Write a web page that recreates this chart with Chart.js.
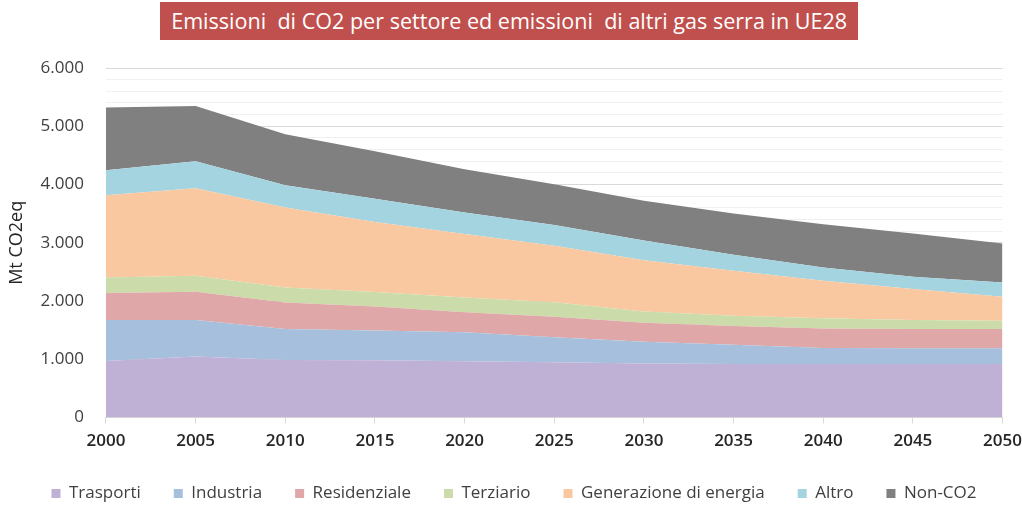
<!DOCTYPE html>
<html>
<head>
<meta charset="utf-8">
<script src="https://cdn.jsdelivr.net/npm/chart.js@4/dist/chart.umd.min.js"></script>
<style>
  html, body { margin: 0; padding: 0; background: #ffffff; }
  #wrap { position: relative; width: 1022px; height: 506px; }
  #title {
    position: absolute; left: 160px; top: 2px; width: 698px; height: 38px;
    background: #c0504d; color: #ffffff; text-align: center;
    font-family: "Open Sans", sans-serif; font-size: 21px;
    line-height: 38px; white-space: pre; z-index: 2; overflow: hidden;
  }
  #title span { display: inline-block; transform-origin: center center; }
  canvas { position: absolute; left: 0; top: 0; }
</style>
</head>
<body>
<div id="wrap">
  <div id="title"><span id="tt">Emissioni  di CO2 per settore ed emissioni  di altri gas serra in UE28</span></div>
  <canvas id="c" width="1022" height="506"></canvas>
</div>
<script>
const years = ["2000","2005","2010","2015","2020","2025","2030","2035","2040","2045","2050"];
const trasporti    = [970, 1050, 990, 985, 965, 950, 930, 920, 920, 920, 920];
const industria    = [705, 625, 530, 510, 498, 428, 370, 331, 274, 269, 269];
const residenziale = [462, 485, 457, 410, 343, 354, 330, 320, 337, 331, 331];
const terziario    = [268, 274, 257, 250, 257, 246, 190, 178, 172, 154, 143];
const generazione  = [1412, 1503, 1372, 1200, 1086, 972, 880, 771, 646, 532, 411];
const altro        = [429, 463, 383, 400, 371, 354, 340, 274, 228, 211, 246];
const nonCO2       = [1074, 949, 874, 817, 743, 703, 680, 709, 743, 743, 669];
const seriesNames  = ["Trasporti","Industria","Residenziale","Terziario","Generazione di energia","Altro","Non-CO2"];
const yTicks = [0, 1000, 2000, 3000, 4000, 5000, 6000];

const colors = ['#bfb0d5','#a6bfdd','#dfa7a7','#cbdcaa','#f9c8a0','#a5d4e1','#808080'];
const seriesData = [trasporti, industria, residenziale, terziario, generazione, altro, nonCO2];

// fit the title text to the reference width (condensed look)
(function () {
  const s = document.getElementById('tt');
  const w = s.getBoundingClientRect().width;
  if (w > 0) s.style.transform = 'scaleX(' + (676 / w) + ')';
})();

function fmt(v) {
  return String(v).replace(/\B(?=(\d{3})+(?!\d))/g, '.');
}

const datasets = seriesData.map((d, i) => ({
  label: seriesNames[i],
  data: d,
  backgroundColor: colors[i],
  borderColor: colors[i],
  borderWidth: 0,
  pointRadius: 0,
  pointHoverRadius: 0,
  fill: i === 0 ? 'origin' : '-1',
  tension: 0
}));

const FONT = "'Open Sans', sans-serif";

new Chart(document.getElementById('c'), {
  type: 'line',
  data: { labels: years, datasets },
  options: {
    responsive: false,
    animation: false,
    layout: { padding: { top: 68, left: 6, right: 0, bottom: -6 } },
    plugins: {
      legend: {
        position: 'bottom',
        labels: {
          boxWidth: 9, boxHeight: 9, padding: 33,
          color: '#404040',
          font: { family: FONT, size: 17 }
        }
      },
      tooltip: { enabled: false },
      title: { display: false }
    },
    scales: {
      x: {
        offset: false,
        afterFit: s => { s.height -= 6; s.paddingRight = Math.max(0, s.paddingRight - 7); },
        grid: { display: true, drawOnChartArea: false, drawTicks: true, tickLength: 6, color: '#d9d9d9' },
        border: { display: true, color: '#d9d9d9' },
        ticks: { color: '#262626', font: { family: FONT, size: 17, weight: '600' }, padding: 7, maxRotation: 0 }
      },
      y: {
        stacked: true,
        min: 0, max: 6000,
        z: 1,
        afterFit: s => { s.width -= 13; },
        title: { display: true, text: 'Mt CO2eq', color: '#262626', font: { family: FONT, size: 18 }, padding: { top: 0, bottom: 4 } },
        border: { display: false },
        grid: {
          drawTicks: false,
          color: ctx => (ctx.tick && ctx.tick.value % 1000 === 0) ? 'rgba(0,0,0,0.15)' : 'rgba(0,0,0,0.06)',
          lineWidth: 1
        },
        ticks: {
          stepSize: 200,
          autoSkip: false,
          padding: 22,
          color: '#404040',
          font: { family: FONT, size: 17 },
          callback: v => yTicks.includes(v) ? fmt(v) : ''
        }
      }
    }
  }
});
</script>
</body>
</html>
